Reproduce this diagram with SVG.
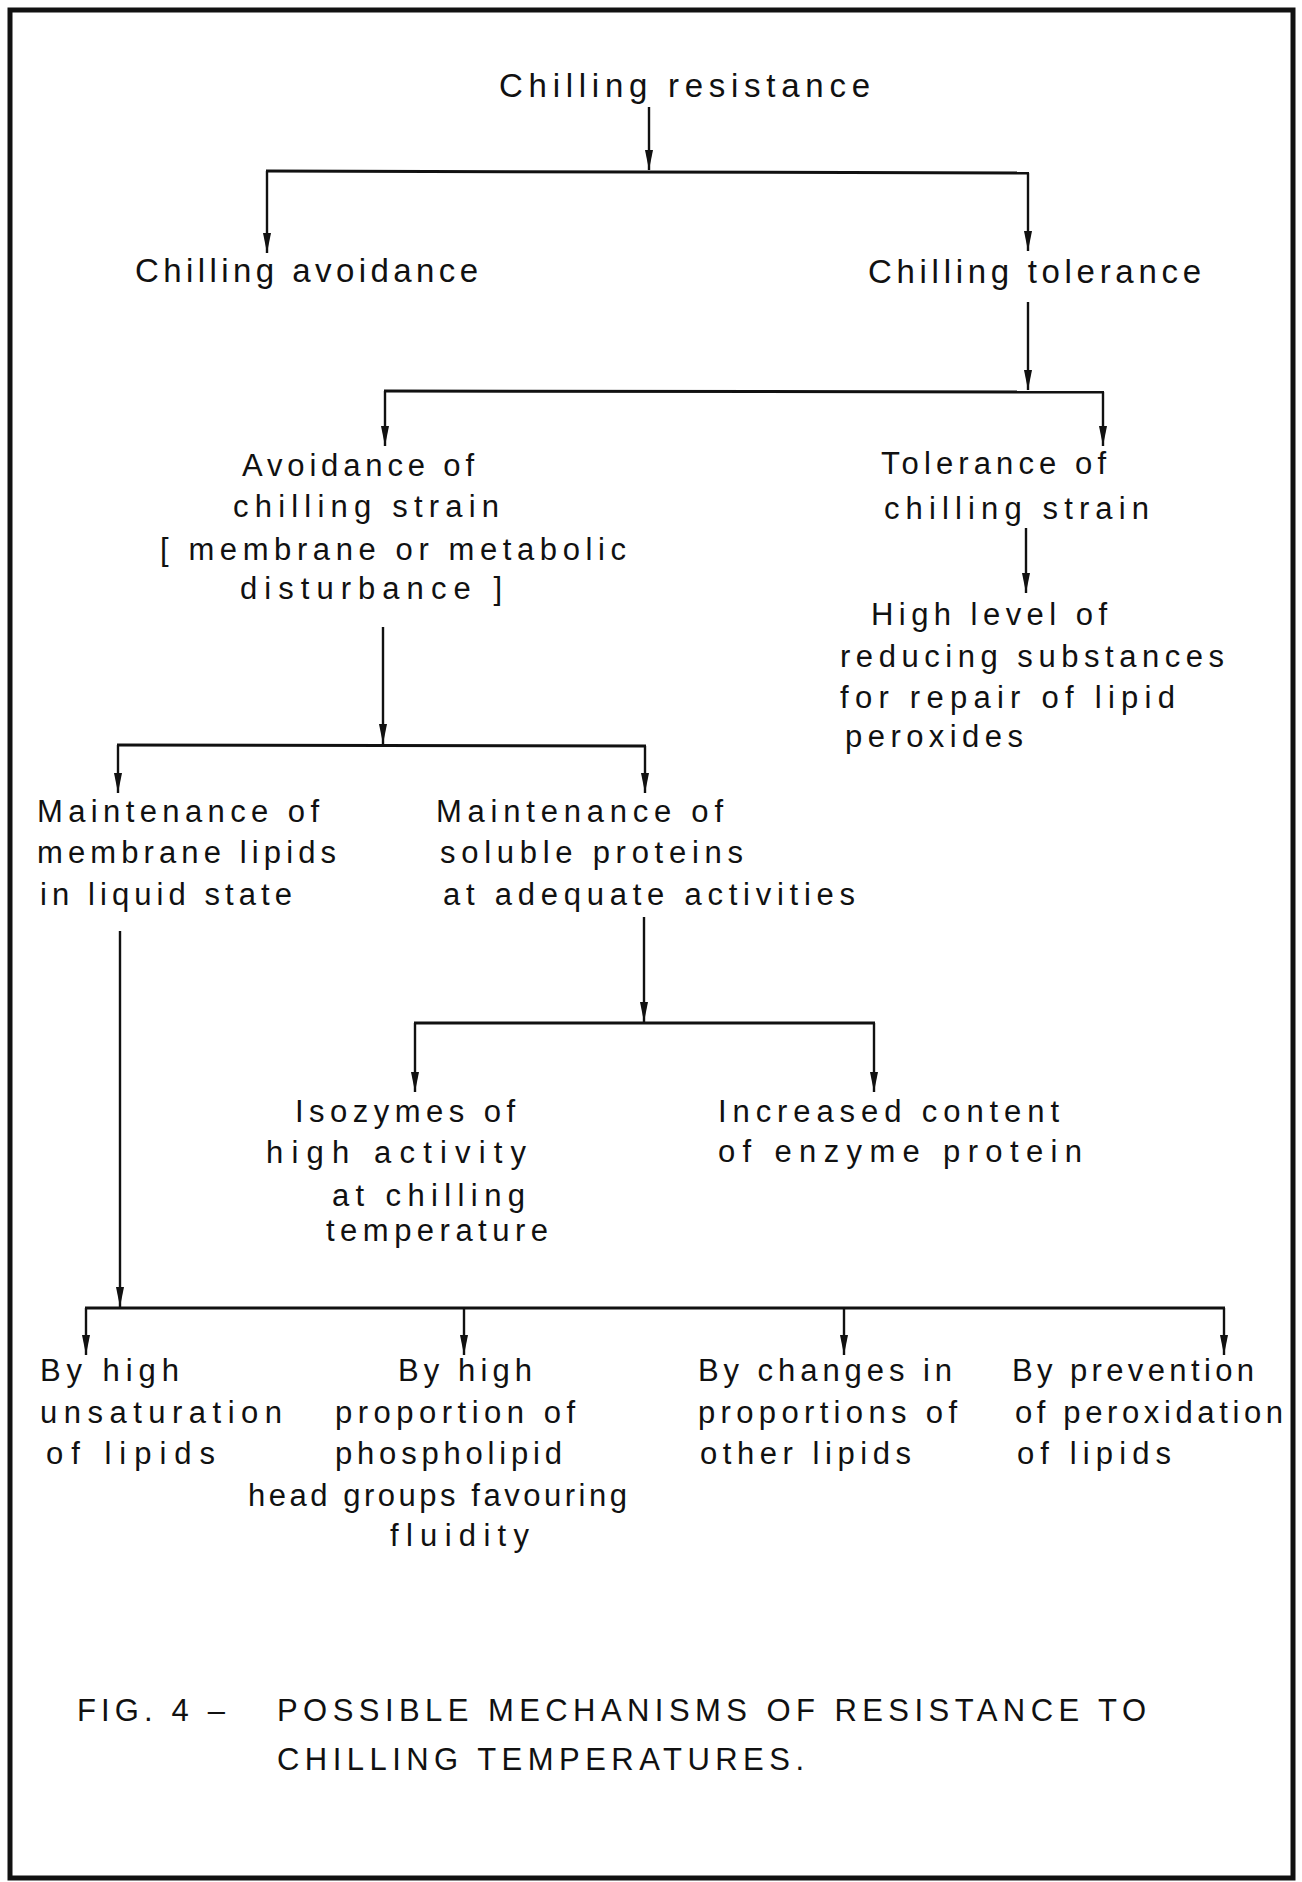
<svg xmlns="http://www.w3.org/2000/svg" width="1302" height="1882" viewBox="0 0 1302 1882">
<style>
  text { font-family: "Liberation Sans", Arial, sans-serif; font-size: 31px; fill: #111; }
  .big { font-size: 33px; }
  .cap { font-size: 31px; }
  .ln { stroke: #111; stroke-width: 3; fill: none; }
  .ar { stroke: #111; stroke-width: 2.4; fill: none; marker-end: url(#ah); }
</style>
<defs>
  <marker id="ah" markerUnits="userSpaceOnUse" markerWidth="22" markerHeight="10" refX="20" refY="4.5" orient="auto">
    <path d="M0,0.5 L20,4.5 L0,8.5 z" fill="#111"/>
  </marker>
</defs>
<rect x="10" y="10" width="1283" height="1868" fill="#fff" stroke="#111" stroke-width="5"/>

<g id="connectors">
  <line class="ar" x1="649" y1="107" x2="649" y2="170"/>
  <line class="ln" x1="266" y1="171" x2="1029" y2="173"/>
  <line class="ar" x1="267" y1="171" x2="267" y2="253"/>
  <line class="ar" x1="1028" y1="173" x2="1028" y2="251"/>

  <line class="ar" x1="1028" y1="302" x2="1028" y2="390"/>
  <line class="ln" x1="384" y1="391" x2="1104" y2="392"/>
  <line class="ar" x1="385" y1="391" x2="385" y2="446"/>
  <line class="ar" x1="1103" y1="392" x2="1103" y2="446"/>

  <line class="ar" x1="1026" y1="528" x2="1026" y2="593"/>

  <line class="ar" x1="383" y1="627" x2="383" y2="744"/>
  <line class="ln" x1="117" y1="745" x2="646" y2="746"/>
  <line class="ar" x1="118" y1="745" x2="118" y2="793"/>
  <line class="ar" x1="645" y1="746" x2="645" y2="793"/>

  <line class="ar" x1="120" y1="931" x2="120" y2="1307"/>

  <line class="ar" x1="644" y1="917" x2="644" y2="1022"/>
  <line class="ln" x1="414" y1="1023" x2="875" y2="1023"/>
  <line class="ar" x1="415" y1="1023" x2="415" y2="1092"/>
  <line class="ar" x1="874" y1="1023" x2="874" y2="1092"/>

  <line class="ln" x1="85" y1="1308" x2="1225" y2="1308"/>
  <line class="ar" x1="86" y1="1308" x2="86" y2="1355"/>
  <line class="ar" x1="464" y1="1308" x2="464" y2="1355"/>
  <line class="ar" x1="844" y1="1308" x2="844" y2="1355"/>
  <line class="ar" x1="1224" y1="1308" x2="1224" y2="1355"/>
</g>

<g id="chilling-resistance">
  <text class="big" x="499" y="97" textLength="371" lengthAdjust="spacing">Chilling resistance</text>
</g>
<g id="chilling-avoidance">
  <text class="big" x="135" y="282" textLength="343" lengthAdjust="spacing">Chilling avoidance</text>
</g>
<g id="chilling-tolerance">
  <text class="big" x="868" y="283" textLength="333" lengthAdjust="spacing">Chilling tolerance</text>
</g>
<g id="avoidance-of-strain">
  <text x="242" y="476" textLength="232" lengthAdjust="spacing">Avoidance of</text>
  <text x="233" y="517" textLength="266" lengthAdjust="spacing">chilling strain</text>
  <text x="160" y="560" textLength="466" lengthAdjust="spacing">[ membrane  or metabolic</text>
  <text x="240" y="599" textLength="262" lengthAdjust="spacing">disturbance ]</text>
</g>
<g id="tolerance-of-strain">
  <text x="881" y="474" textLength="225" lengthAdjust="spacing">Tolerance of</text>
  <text x="884" y="519" textLength="265" lengthAdjust="spacing">chilling strain</text>
</g>
<g id="reducing-substances">
  <text x="871" y="625" textLength="236" lengthAdjust="spacing">High level of</text>
  <text x="840" y="667" textLength="384" lengthAdjust="spacing">reducing substances</text>
  <text x="840" y="708" textLength="335" lengthAdjust="spacing">for repair of lipid</text>
  <text x="845" y="747" textLength="178" lengthAdjust="spacing">peroxides</text>
</g>
<g id="membrane-lipids">
  <text x="37" y="822" textLength="282" lengthAdjust="spacing">Maintenance of</text>
  <text x="37" y="863" textLength="299" lengthAdjust="spacing">membrane lipids</text>
  <text x="40" y="905" textLength="252" lengthAdjust="spacing">in liquid state</text>
</g>
<g id="soluble-proteins">
  <text x="436" y="822" textLength="287" lengthAdjust="spacing">Maintenance of</text>
  <text x="440" y="863" textLength="303" lengthAdjust="spacing">soluble proteins</text>
  <text x="443" y="905" textLength="412" lengthAdjust="spacing">at adequate activities</text>
</g>
<g id="isozymes">
  <text x="295" y="1122" textLength="220" lengthAdjust="spacing">Isozymes of</text>
  <text x="266" y="1163" textLength="260" lengthAdjust="spacing">high activity</text>
  <text x="332" y="1206" textLength="193" lengthAdjust="spacing">at chilling</text>
  <text x="326" y="1241" textLength="222" lengthAdjust="spacing">temperature</text>
</g>
<g id="enzyme-protein">
  <text x="718" y="1122" textLength="341" lengthAdjust="spacing">Increased content</text>
  <text x="718" y="1162" textLength="364" lengthAdjust="spacing">of enzyme  protein</text>
</g>
<g id="unsaturation">
  <text x="40" y="1381" textLength="139" lengthAdjust="spacing">By high</text>
  <text x="40" y="1423" textLength="242" lengthAdjust="spacing">unsaturation</text>
  <text x="46" y="1464" textLength="169" lengthAdjust="spacing">of lipids</text>
</g>
<g id="head-groups">
  <text x="398" y="1381" textLength="134" lengthAdjust="spacing">By high</text>
  <text x="335" y="1423" textLength="240" lengthAdjust="spacing">proportion of</text>
  <text x="335" y="1464" textLength="227" lengthAdjust="spacing">phospholipid</text>
  <text x="248" y="1506" textLength="379" lengthAdjust="spacing">head groups favouring</text>
  <text x="390" y="1546" textLength="139" lengthAdjust="spacing">fluidity</text>
</g>
<g id="other-lipids">
  <text x="698" y="1381" textLength="254" lengthAdjust="spacing">By changes in</text>
  <text x="698" y="1423" textLength="259" lengthAdjust="spacing">proportions of</text>
  <text x="700" y="1464" textLength="211" lengthAdjust="spacing">other lipids</text>
</g>
<g id="peroxidation">
  <text x="1012" y="1381" textLength="242" lengthAdjust="spacing">By prevention</text>
  <text x="1015" y="1423" textLength="268" lengthAdjust="spacing">of peroxidation</text>
  <text x="1017" y="1464" textLength="154" lengthAdjust="spacing">of lipids</text>
</g>
<g id="caption">
  <text class="cap" x="77" y="1721" textLength="148" lengthAdjust="spacing">FIG. 4 –</text>
  <text class="cap" x="277" y="1721" textLength="869" lengthAdjust="spacing">POSSIBLE MECHANISMS  OF RESISTANCE  TO</text>
  <text class="cap" x="277" y="1770" textLength="527" lengthAdjust="spacing">CHILLING TEMPERATURES.</text>
</g>
</svg>
